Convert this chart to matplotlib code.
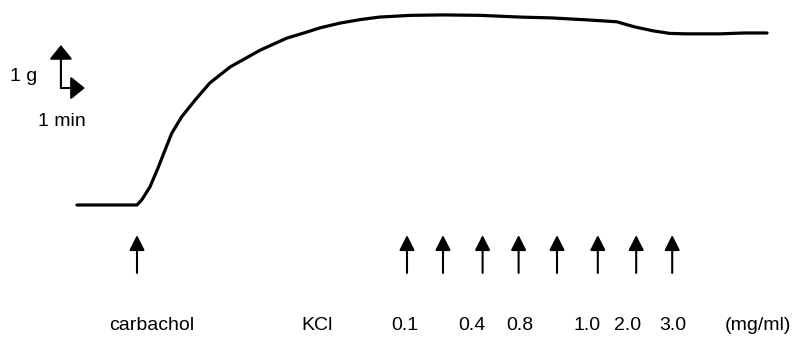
import matplotlib
matplotlib.use("Agg")
import matplotlib.pyplot as plt

plt.rcParams['font.family'] = ['Liberation Sans', 'DejaVu Sans']

# contraction trace: time (min, carbachol added at 0) vs tension above baseline (g)
time_min = [-2.5, 0.0, 0.20, 0.54, 0.89, 1.17, 1.45, 1.86, 2.42, 3.04, 3.88, 5.13,
            6.24, 7.07, 7.63, 8.46, 9.29, 10.1, 11.4, 12.75, 14.3, 15.96, 17.3,
            18.9, 20.0, 20.3, 20.75, 21.5, 22.2, 22.9, 24.3, 25.3, 26.25]
tension_g = [0.0, 0.0, 0.12, 0.42, 0.88, 1.28, 1.67, 2.05, 2.44, 2.84, 3.21, 3.60,
             3.88, 4.02, 4.12, 4.23, 4.31, 4.37, 4.41, 4.42, 4.41, 4.37, 4.35,
             4.30, 4.26, 4.21, 4.14, 4.05, 3.99, 3.98, 3.98, 4.0, 4.0]

# drug additions
carbachol_t = [0.0]
kcl_t = [11.25, 12.75, 14.4, 15.9, 17.5, 19.2, 20.8, 22.3]

# labels under the arrows
labels = ['carbachol', 'KCl', '0.1', '0.4', '0.8', '1.0', '2.0', '3.0', '(mg/ml)']
label_t = [0.63, 7.5, 11.17, 13.96, 15.96, 18.75, 20.46, 22.33, 25.88]

fig = plt.figure(figsize=(7.96, 3.37), dpi=100)
ax = fig.add_axes([0, 0, 1, 1])
ax.set_xlim(-5.708, 27.458)
ax.set_ylim(-3.07, 4.767)
ax.axis('off')

ax.plot(time_min, tension_g, color='black', lw=2.3,
        solid_capstyle='round', solid_joinstyle='round')

arrow_kw = dict(arrowstyle='-|>,head_length=0.65,head_width=0.33', lw=1.5,
                color='black', mutation_scale=14, shrinkA=0, shrinkB=0)
for t in carbachol_t + kcl_t:
    ax.annotate('', xy=(t, -0.70), xytext=(t, -1.58), arrowprops=arrow_kw)

for lab, t in zip(labels, label_t):
    ax.text(t, -2.81, lab, ha='center', va='center', fontsize=14)

# scale bar: 1 g / 1 min
bar_kw = dict(arrowstyle='-|>,head_length=0.62,head_width=0.5', lw=1.5,
              color='black', mutation_scale=14, shrinkA=0, shrinkB=0)
x0, y0 = -3.17, 2.72
ax.annotate('', xy=(x0, y0 + 1.0), xytext=(x0, y0), arrowprops=bar_kw)
ax.annotate('', xy=(x0 + 1.0, y0), xytext=(x0, y0), arrowprops=bar_kw)
ax.text(x0 - 1.0, y0 + 0.27, '1 g', ha='right', va='center', fontsize=14)
ax.text(x0 + 0.05, y0 - 0.79, '1 min', ha='center', va='center', fontsize=14)

fig.savefig('out.png', dpi=100)
